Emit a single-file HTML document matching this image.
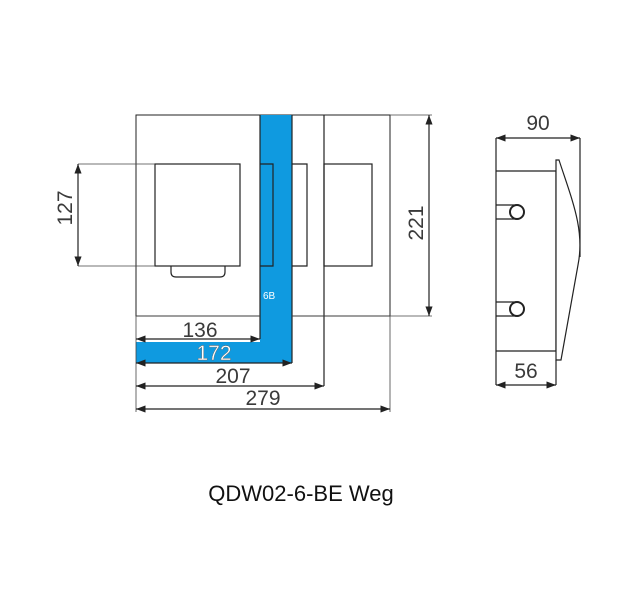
<!DOCTYPE html><html><head><style>body{margin:0;background:#fff}svg{display:block}</style></head><body>
<svg width="618" height="615" viewBox="0 0 618 615" xmlns="http://www.w3.org/2000/svg" font-family="Liberation Sans, sans-serif">
<defs><marker id="a" markerWidth="8" markerHeight="6" refX="8" refY="3" orient="auto-start-reverse"><path d="M0,0 L8,3 L0,6z" fill="#222"/></marker></defs>
<g fill="none" stroke="#222" stroke-width="1">
<rect x="136" y="115" width="254" height="201"/>
</g>
<rect x="260" y="115" width="32" height="248" fill="#0f9ae0"/>
<rect x="136" y="342" width="156" height="21" fill="#0f9ae0"/>
<g fill="none" stroke="#222" stroke-width="1.2">
<line x1="260" y1="115" x2="260" y2="339"/><line x1="292" y1="115" x2="292" y2="363"/>
<line x1="324" y1="115" x2="324" y2="386"/>
<rect x="155" y="164" width="85" height="102" fill="#fff"/>
<path d="M171,266 v6 q0,5 5,5 h44 q5,0 5,-5 v-6"/>
<path d="M260,164 h13 v102 h-13"/>
<path d="M292,164 h15 v102 h-15"/>
<rect x="324" y="164" width="48" height="102"/>
</g>
<g stroke="#444" stroke-width="0.8" fill="none">
<line x1="78" y1="164" x2="155" y2="164"/><line x1="78" y1="266" x2="155" y2="266"/>
<line x1="390" y1="115" x2="432" y2="115"/><line x1="292" y1="316" x2="432" y2="316"/>
<line x1="136" y1="316" x2="260" y2="316"/>
<line x1="136" y1="316" x2="136" y2="412"/><line x1="390" y1="316" x2="390" y2="412"/>
</g>
<g stroke="#222" stroke-width="1.2" marker-start="url(#a)" marker-end="url(#a)">
<line x1="78" y1="164" x2="78" y2="266"/>
<line x1="429" y1="115" x2="429" y2="316"/>
<line x1="136" y1="339" x2="260" y2="339"/>
<line x1="136" y1="363" x2="292" y2="363"/>
<line x1="136" y1="386" x2="324" y2="386"/>
<line x1="136" y1="409" x2="390" y2="409"/>
<line x1="496" y1="138" x2="580" y2="138"/>
<line x1="496" y1="385" x2="556" y2="385"/>
</g>
<g font-size="21" fill="#3a3a3a" text-anchor="middle">
<text x="200" y="337">136</text>
<text x="214" y="360" fill="#fff" stroke="#666" stroke-width="0.4">172</text>
<text x="233" y="383">207</text>
<text x="263" y="405">279</text>
<text transform="translate(72,208) rotate(-90)">127</text>
<text transform="translate(423,223) rotate(-90)">221</text>
<text x="538" y="130">90</text>
<text x="526" y="378">56</text>
</g>
<text x="263" y="299" font-size="10" fill="#fff">6B</text>
<g fill="none" stroke="#222" stroke-width="1.2">
<line x1="496" y1="138" x2="496" y2="385"/><line x1="580" y1="138" x2="580" y2="257"/>
<line x1="556" y1="360" x2="556" y2="385"/>
<path d="M496,171 H556 V351 H496"/>
<path d="M556,160 H559 C572,200 585,230 578,265 L561,360 H556 Z" fill="#fff"/>
<path d="M496,205 H516 M496,219 H516 M496,302 H516 M496,316 H516"/>
<circle cx="517" cy="212" r="7" fill="#fff" stroke-width="2"/>
<circle cx="517" cy="309" r="7" fill="#fff" stroke-width="2"/>
</g>
<text x="301" y="501" font-size="22" fill="#111" text-anchor="middle">QDW02-6-BE Weg</text>
</svg></body></html>
